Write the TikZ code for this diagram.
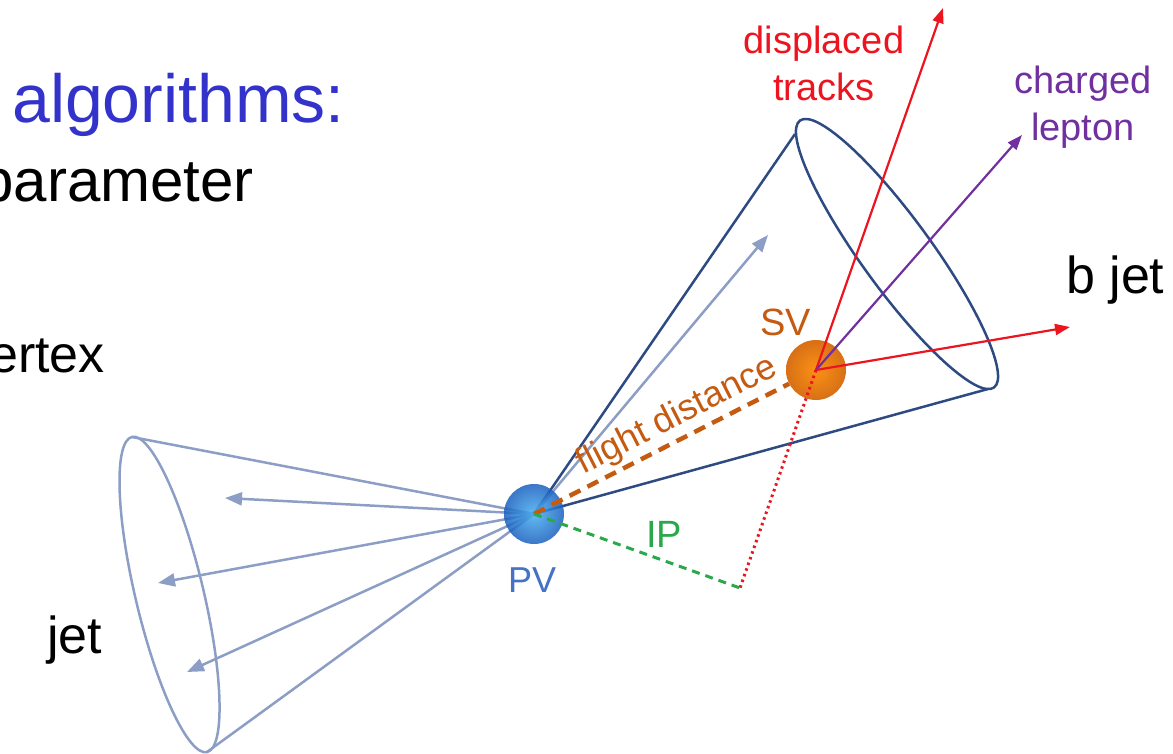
\documentclass[tikz,border=0pt]{standalone}
\usepackage{fontspec}
\setmainfont{Liberation Sans}
\usetikzlibrary{arrows, arrows.meta, positioning}

\definecolor{slideblue}{RGB}{51,51,204}
\definecolor{trackred}{RGB}{236,20,30}
\definecolor{leptonpurple}{RGB}{112,48,160}
\definecolor{svorange}{RGB}{197,90,17}
\definecolor{ipgreen}{RGB}{44,168,76}
\definecolor{pvblue}{RGB}{68,114,196}
\definecolor{conenavy}{RGB}{45,75,130}
\definecolor{jetgray}{RGB}{140,158,198}

\newcommand{\setsize}[1]{\fontsize{#1}{#1}\selectfont}

\begin{document}
\begin{tikzpicture}[x=1pt, y=-1pt]
		\tikzstyle{jetline} = [line width=2.5pt, draw=jetgray]
		\tikzstyle{coneline} = [line width=2.5pt, draw=conenavy]
		\tikzstyle{arrow} = [line width=2.5pt, ->, >={Triangle[length=17pt, width=13pt]}]
		\tikzstyle{track} = [line width=2.2pt, ->, >={Triangle[length=15pt, width=11pt]}]
		\tikzstyle{vtx} = [circle, minimum size=60pt, inner sep=0pt, shading=radial]
		\tikzstyle{lbl} = [inner sep=0pt]
		
		\useasboundingbox (0,0) rectangle (1173,754);
		\clip (0,0) rectangle (1173,754);
		
		% slide text behind the sketch
		\node (title) [lbl, anchor=base west, text=slideblue, font=\setsize{68}] at (12,123) {algorithms:};
		\node (ipar) [lbl, anchor=base east, font=\setsize{60}] at (254,202) {parameter};
		\node (svtx) [lbl, anchor=base east, font=\setsize{52}] at (105,372) {ertex};
		
		\coordinate (pvc) at (534,514);
		\coordinate (svc) at (816,370);
		
		% light jet
		\coordinate (jc) at (169.5,594.5);
		\coordinate (jtop) at (132,437);
		\coordinate (jbot) at (207,752);
		\coordinate (j1) at (225,498);
		\coordinate (j2) at (158,583);
		\coordinate (j3) at (187,672);
		\draw [jetline, rotate around={-76.6:(jc)}] (jc) ellipse [x radius=162, y radius=34];
		\draw [jetline] (pvc) -- (jtop);
		\draw [jetline] (pvc) -- (jbot);
		\draw [arrow, jetgray] (pvc) -- (j1);
		\draw [arrow, jetgray] (pvc) -- (j2);
		\draw [arrow, jetgray] (pvc) -- (j3);
		
		% b jet cone
		\coordinate (bc) at (897,254);
		\coordinate (btop) at (795,134);
		\coordinate (bbot) at (988,389);
		\coordinate (b1) at (768,235);
		\draw [coneline, rotate around={-54:(bc)}] (bc) ellipse [x radius=165, y radius=35];
		\draw [coneline] (pvc) -- (btop);
		\draw [coneline] (pvc) -- (bbot);
		\draw [arrow, jetgray] (pvc) -- (b1);
		
		\node (pv) [vtx, inner color={rgb,255:red,70;green,175;blue,240}, outer color={rgb,255:red,25;green,95;blue,190}, opacity=0.85] at (pvc) {};
		\node (sv) [vtx, inner color={rgb,255:red,252;green,145;blue,20}, outer color={rgb,255:red,215;green,112;blue,22}] at (svc) {};
		
		% flight distance and impact parameter
		\coordinate (ipt) at (740,588);
		\draw [line width=4.5pt, svorange, dash pattern=on 12pt off 8pt] (pv.center) -- (sv)
			node [pos=0.6, above, sloped, inner sep=3pt, text=svorange, font=\setsize{36}] (fd) {flight distance};
		\draw [line width=3pt, ipgreen, dash pattern=on 8pt off 6pt] (pv.center) -- (ipt);
		\draw [line width=3pt, trackred, dash pattern=on 2.5pt off 3.5pt] (sv.center) -- (ipt);
		
		% decay products
		\coordinate (t1) at (943,8);
		\coordinate (t2) at (1070,327);
		\coordinate (l1) at (1022,135);
		\draw [track, trackred] (sv.center) -- (t1);
		\draw [track, leptonpurple] (sv.center) -- (l1);
		\draw [track, trackred] (sv.center) -- (t2);
		
		% labels
		\node (pvl) [lbl, anchor=base west, text=pvblue, font=\setsize{36}] at (508,592) {PV};
		\node (svl) [lbl, anchor=base west, text=svorange, font=\setsize{38}] at (760,335) {SV};
		\node (ipl) [lbl, anchor=base west, text=ipgreen, font=\setsize{38}] at (646,547) {IP};
		\node (disp) [lbl, anchor=north, align=center, text=trackred, font=\fontsize{38}{47}\selectfont] at (824,25.5) {displaced\\tracks};
		\node (lep) [lbl, anchor=north, align=center, text=leptonpurple, font=\fontsize{38}{47}\selectfont] at (1083,65.5) {charged\\lepton};
		\node (bjet) [lbl, anchor=base west, font=\setsize{52}] at (1066,293) {b jet};
		\node (jet) [lbl, anchor=base west, font=\setsize{52}] at (47,653) {jet};
		\end{tikzpicture}
\end{document}
